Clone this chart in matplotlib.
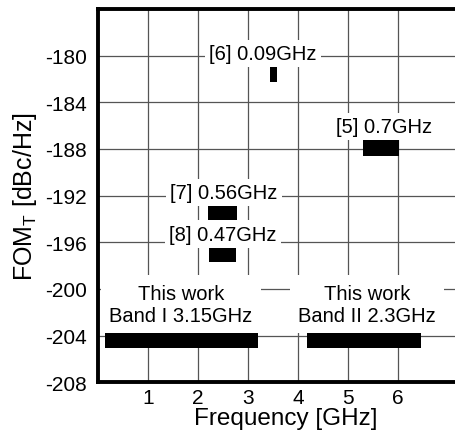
import matplotlib
matplotlib.use("Agg")
import matplotlib.pyplot as plt

plt.rcParams['font.family'] = ['Liberation Sans', 'DejaVu Sans']
plt.rcParams['axes.unicode_minus'] = False

# Data: tuning range (GHz) and FOM_T span (dBc/Hz) of each work
labels = ['[6] 0.09GHz', '[5] 0.7GHz', '[7] 0.56GHz', '[8] 0.47GHz',
          'This work\nBand I 3.15GHz', 'This work\nBand II 2.3GHz']
f_lo = [3.44, 5.30, 2.20, 2.22, 0.14, 4.18]
f_hi = [3.58, 6.02, 2.78, 2.76, 3.20, 6.46]
fom_hi = [-180.9, -187.0, -192.6, -196.3, -203.5, -203.5]
fom_lo = [-182.3, -188.6, -194.3, -197.7, -205.1, -205.1]

x_ticks = [1, 2, 3, 4, 5, 6]
y_ticks = [-180, -184, -188, -192, -196, -200, -204, -208]

fig = plt.figure(figsize=(4.56, 4.31), dpi=100)
ax = fig.add_axes([0.215, 0.111, 0.822, 0.866])

widths = [h - l for l, h in zip(f_lo, f_hi)]
heights = [h - l for l, h in zip(fom_lo, fom_hi)]
ax.bar(f_lo, heights, width=widths, bottom=fom_lo, align='edge',
       color='black', zorder=3)

# label anchor positions (x in GHz, y in dBc/Hz)
lab_pos = [(3.3, -179.8), (5.72, -186.1), (2.52, -191.7), (2.5, -195.3),
           (1.66, -201.3), (5.38, -201.3)]
for i, (txt, (lx, ly)) in enumerate(zip(labels, lab_pos)):
    if i >= 4:
        bb = dict(boxstyle='square,pad=0.4', fc='white', ec='none')
    else:
        bb = dict(boxstyle='square,pad=0.2', fc='white', ec='none')
    ax.text(lx, ly, txt, ha='center', va='center', fontsize=14.5,
            bbox=bb, zorder=4, linespacing=1.2)

ax.set_xlim(0, 7.5)
ax.set_ylim(-208, -176)
ax.set_xticks(x_ticks)
ax.set_yticks(y_ticks)
ax.tick_params(axis='both', length=0, labelsize=15)
ax.tick_params(axis='y', pad=8)
ax.tick_params(axis='x', pad=4)
ax.grid(True, color='#555555', linewidth=0.9, zorder=1)
ax.set_axisbelow(True)
for s in ['left', 'top', 'bottom', 'right']:
    ax.spines[s].set_linewidth(2.8)
    ax.spines[s].set_zorder(6)

ax.set_xlabel('Frequency [GHz]', fontsize=17.5, labelpad=0)
ax.set_ylabel('FOM$_\\mathregular{T}$ [dBc/Hz]', fontsize=18, labelpad=4)

fig.savefig('out.png', dpi=100)
